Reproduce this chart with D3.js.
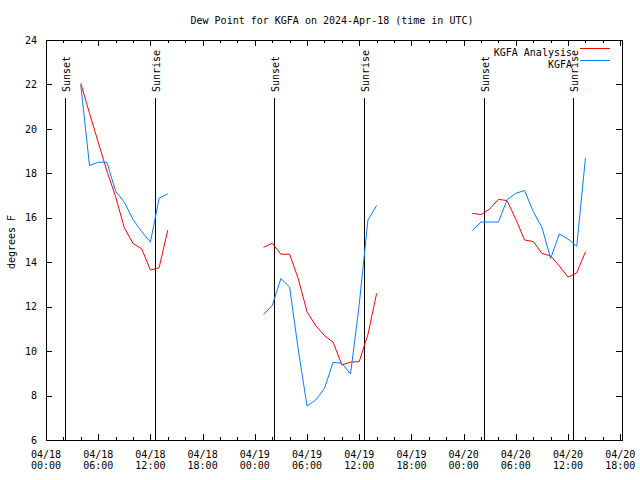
<!DOCTYPE html>
<html>
<head>
<meta charset="utf-8">
<script src="https://cdn.jsdelivr.net/npm/d3@7"></script>
<style>
  html, body { margin: 0; padding: 0; background: #fff; }
  svg { display: block; }
  text { font-family: "DejaVu Sans Mono", "Liberation Mono", monospace; font-size: 10px; fill: #000; }
</style>
</head>
<body>
<svg id="chart" width="640" height="480"></svg>
<script>
// ---- data (time in UTC, hourly observations) ----
const times = [
  "2024-04-18T04:00Z","2024-04-18T05:00Z","2024-04-18T06:00Z","2024-04-18T07:00Z","2024-04-18T08:00Z",
  "2024-04-18T09:00Z","2024-04-18T10:00Z","2024-04-18T11:00Z","2024-04-18T12:00Z","2024-04-18T13:00Z",
  "2024-04-18T14:00Z",
  "2024-04-19T01:00Z","2024-04-19T02:00Z","2024-04-19T03:00Z","2024-04-19T04:00Z","2024-04-19T05:00Z",
  "2024-04-19T06:00Z","2024-04-19T07:00Z","2024-04-19T08:00Z","2024-04-19T09:00Z","2024-04-19T10:00Z",
  "2024-04-19T11:00Z","2024-04-19T12:00Z","2024-04-19T13:00Z","2024-04-19T14:00Z",
  "2024-04-20T01:00Z","2024-04-20T02:00Z","2024-04-20T03:00Z","2024-04-20T04:00Z","2024-04-20T05:00Z",
  "2024-04-20T06:00Z","2024-04-20T07:00Z","2024-04-20T08:00Z","2024-04-20T09:00Z","2024-04-20T10:00Z",
  "2024-04-20T11:00Z","2024-04-20T12:00Z","2024-04-20T13:00Z","2024-04-20T14:00Z"
];
const analysis = [
  22.05, 20.7, 19.4, 18.1, 16.95, 15.55, 14.85, 14.6, 13.65, 13.75, 15.45,
  14.67, 14.85, 14.36, 14.36, 13.25, 11.77, 11.15, 10.7, 10.4, 9.38, 9.5, 9.53, 10.75, 12.6,
  16.2, 16.14, 16.4, 16.83, 16.77, 15.93, 15.0, 14.93, 14.4, 14.28, 13.83, 13.33, 13.52, 14.47
];
const observed = [
  21.97, 18.35, 18.5, 18.5, 17.2, 16.7, 15.92, 15.38, 14.9, 16.88, 17.08,
  11.65, 12.05, 13.27, 12.88, 10.05, 7.53, 7.8, 8.32, 9.5, 9.45, 8.97, 12.1, 15.9, 16.55,
  15.43, 15.81, 15.81, 15.81, 16.82, 17.1, 17.23, 16.28, 15.56, 14.17, 15.27, 15.04, 14.72, 18.7
];
const sunsets = ["2024-04-18T02:12Z", "2024-04-19T02:15Z", "2024-04-20T02:23Z"];
const sunrises = ["2024-04-18T12:34Z", "2024-04-19T12:36Z", "2024-04-20T12:37Z"];
const yTicks = [6, 8, 10, 12, 14, 16, 18, 20, 22, 24];
const xLabelTimes = [
  "2024-04-18T00:00Z","2024-04-18T06:00Z","2024-04-18T12:00Z","2024-04-18T18:00Z",
  "2024-04-19T00:00Z","2024-04-19T06:00Z","2024-04-19T12:00Z","2024-04-19T18:00Z",
  "2024-04-20T00:00Z","2024-04-20T06:00Z","2024-04-20T12:00Z","2024-04-20T18:00Z"
];
const seriesNames = ["KGFA Analysis", "KGFA"];
const seriesColors = ["#ff0000", "#0080ff"];
const titleText = "Dew Point for KGFA on 2024-Apr-18 (time in UTC)";
const yLabel = "degrees F";

// ---- layout ----
const L = 46, R = 622, T = 40, B = 440;
const svg = d3.select("#chart");
const parse = s => new Date(s);
const x = d3.scaleUtc()
  .domain([parse("2024-04-18T00:00Z"), parse("2024-04-20T18:12Z")])
  .range([L, R]);
const y = d3.scaleLinear().domain([6, 24]).range([B, T]);

// title
svg.append("text").attr("x", 332).attr("y", 24).attr("text-anchor", "middle").text(titleText);

// y label
svg.append("text").attr("transform", "translate(15,242) rotate(-90)")
  .attr("text-anchor", "middle").text(yLabel);

// y axis (left, ticks inward) and mirror on right
const gy = svg.append("g").attr("transform", `translate(${L},0)`)
  .call(d3.axisLeft(y).tickValues(yTicks).tickSize(-6).tickPadding(9).tickFormat(d3.format("d")));
gy.select(".domain").remove();
gy.selectAll("line").attr("stroke", "#000").attr("shape-rendering", "crispEdges");
gy.selectAll("text").style("font-family", null).style("font-size", null).attr("font-family", null).attr("font-size", null);
const gyr = svg.append("g").attr("transform", `translate(${R},0)`)
  .call(d3.axisRight(y).tickValues(yTicks).tickSize(-6).tickFormat(""));
gyr.select(".domain").remove();
gyr.selectAll("line").attr("stroke", "#000").attr("shape-rendering", "crispEdges");

// x ticks: major every 6h, minor every 2h, bottom and top
const allTicks = d3.utcHour.every(2).range(x.domain()[0], x.domain()[1]);
allTicks.push(parse("2024-04-20T18:00Z"));
const tickG = svg.append("g").attr("shape-rendering", "crispEdges").attr("stroke", "#000");
allTicks.forEach(t => {
  const major = t.getUTCHours() % 6 === 0;
  const len = major ? 6 : 3;
  const px = Math.round(x(t)) + 0.5;
  tickG.append("line").attr("x1", px).attr("x2", px).attr("y1", B).attr("y2", B - len);
  tickG.append("line").attr("x1", px).attr("x2", px).attr("y1", T).attr("y2", T + len);
});
const fmtD = d3.utcFormat("%m/%d"), fmtT = d3.utcFormat("%H:%M");
xLabelTimes.map(parse).forEach(t => {
  const tx = svg.append("text").attr("x", x(t)).attr("text-anchor", "middle");
  tx.append("tspan").attr("x", x(t)).attr("y", 458).text(fmtD(t));
  tx.append("tspan").attr("x", x(t)).attr("y", 469).text(fmtT(t));
});

// border
svg.append("rect").attr("x", L + 0.5).attr("y", T + 0.5).attr("width", R - L).attr("height", B - T)
  .attr("fill", "none").attr("stroke", "#000").attr("shape-rendering", "crispEdges");

// sunset / sunrise markers
const markers = sunsets.map(s => ({t: parse(s), label: "Sunset"}))
  .concat(sunrises.map(s => ({t: parse(s), label: "Sunrise"})));
markers.forEach(m => {
  const px = Math.round(x(m.t)) + 0.5;
  svg.append("line").attr("x1", px).attr("x2", px).attr("y1", 98).attr("y2", B)
    .attr("stroke", "#000").attr("shape-rendering", "crispEdges");
  svg.append("text").attr("transform", `translate(${px + 4},92) rotate(-90)`)
    .attr("text-anchor", "start").text(m.label);
});

// series, split at gaps
function segments(vals) {
  const pts = times.map((s, i) => ({t: parse(s), v: vals[i]}));
  const segs = [];
  let cur = [];
  pts.forEach((p, i) => {
    if (i > 0 && (p.t - pts[i - 1].t) > 3600000 * 1.5) { segs.push(cur); cur = []; }
    cur.push(p);
  });
  segs.push(cur);
  return segs;
}
const line = d3.line().x(d => x(d.t)).y(d => y(d.v));
[analysis, observed].forEach((vals, k) => {
  segments(vals).forEach(seg => {
    svg.append("path").attr("d", line(seg)).attr("fill", "none")
      .attr("stroke", seriesColors[k]).attr("stroke-width", 1);
  });
});

// legend
seriesNames.forEach((name, k) => {
  const yy = 52 + k * 12;
  svg.append("text").attr("x", 572).attr("y", yy + 3.5).attr("text-anchor", "end").text(name);
  svg.append("line").attr("x1", 580).attr("x2", 610).attr("y1", yy - 3.5).attr("y2", yy - 3.5)
    .attr("stroke", seriesColors[k]).attr("shape-rendering", "crispEdges");
});
</script>
</body>
</html>
